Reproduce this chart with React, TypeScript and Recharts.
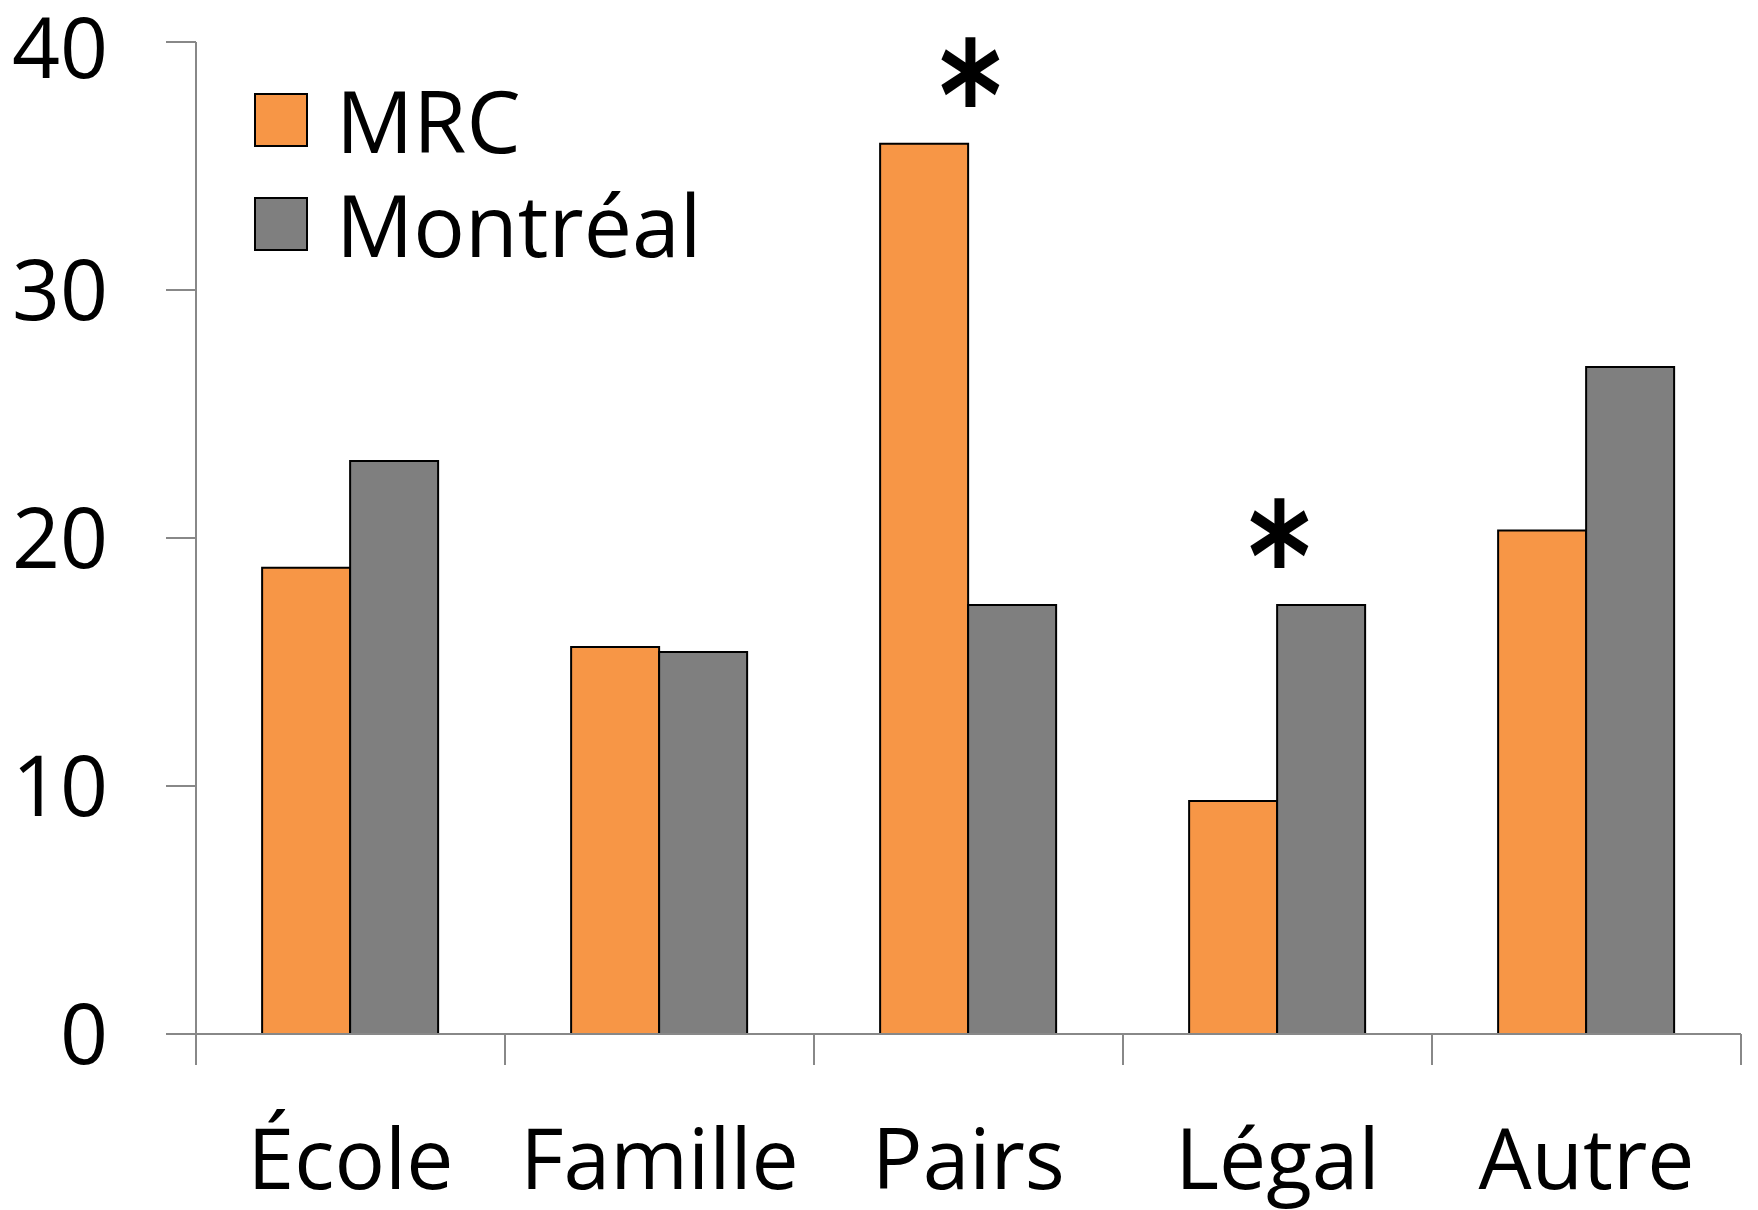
import React from "react";
import { BarChart, Bar, XAxis, YAxis, Legend, ReferenceDot } from "recharts";

const categories = ["École", "Famille", "Pairs", "Légal", "Autre"];
const mrcValues = [18.8, 15.6, 35.9, 9.4, 20.3];
const montrealValues = [23.1, 15.4, 17.3, 17.3, 26.9];
const significant = [false, false, true, true, false];
const yTicks = [0, 10, 20, 30, 40];
const seriesNames = ["MRC", "Montréal"];
const seriesColors = ["#F79646", "#7F7F7F"];

const data = categories.map((c, i) => ({
  category: c,
  mrc: mrcValues[i],
  montreal: montrealValues[i],
}));

const FONT = "'Open Sans', 'Noto Sans', sans-serif";
const AXIS_COLOR = "#888888";
const X_TICK_SIZE = 31;
const X_TICK_MARGIN = 64;
const STAR_OFFSET = 70;

const XTick = (props: any) => {
  const { x, y, payload, index, visibleTicksCount, width } = props;
  const half =
    payload && typeof payload.offset === "number" && payload.offset > 0
      ? payload.offset
      : width / (visibleTicksCount || categories.length) / 2;
  const axisY = y - X_TICK_SIZE - X_TICK_MARGIN;
  const last = index === (visibleTicksCount || categories.length) - 1;
  return (
    <g>
      <line x1={x - half} x2={x - half} y1={axisY} y2={axisY + X_TICK_SIZE} stroke={AXIS_COLOR} strokeWidth={2} />
      {last && (
        <line x1={x + half} x2={x + half} y1={axisY} y2={axisY + X_TICK_SIZE} stroke={AXIS_COLOR} strokeWidth={2} />
      )}
      <text x={x} y={y} dy="0.71em" textAnchor="middle" fill="#000" fontSize={84} fontFamily={FONT}>
        {payload.value}
      </text>
    </g>
  );
};

const StarShape = (props: any) => {
  const { cx, cy } = props;
  if (typeof cx !== "number" || typeof cy !== "number") return null;
  return (
    <g transform={`translate(${cx + 2}, ${cy - STAR_OFFSET}) scale(0.8, 1)`}>
      <text
        x={0}
        y={0}
        dy="0.5em"
        textAnchor="middle"
        fill="#000"
        fontSize={150}
        fontWeight="bold"
        fontFamily="'DejaVu Sans', sans-serif"
      >
        *
      </text>
    </g>
  );
};

const LegendContent = (props: any) => {
  const payload = props.payload || [];
  return (
    <div style={{ fontFamily: FONT }}>
      {payload.map((p: any, i: number) => (
        <div key={i} style={{ display: "flex", alignItems: "center", height: 104 }}>
          <div
            style={{
              width: 54,
              height: 54,
              boxSizing: "border-box",
              border: "2px solid #000",
              background: p.color,
            }}
          />
          <span style={{ marginLeft: 28, fontSize: 86, lineHeight: 1, color: "#000" }}>{p.value}</span>
        </div>
      ))}
    </div>
  );
};

export default function App() {
  return (
    <div style={{ position: "absolute", left: 0, top: 0, width: 1758, height: 1210, background: "#fff" }}>
      <BarChart
        width={1758}
        height={1210}
        data={data}
        margin={{ top: 42, right: 17, left: 0, bottom: 0 }}
        barCategoryGap="21.4%"
        barGap={0}
      >
        <YAxis
          type="number"
          domain={[0, 40]}
          ticks={yTicks}
          width={196}
          tickSize={30}
          tickMargin={58}
          axisLine={{ stroke: AXIS_COLOR, strokeWidth: 2 }}
          tickLine={{ stroke: AXIS_COLOR, strokeWidth: 2 }}
          tick={{ fill: "#000", fontSize: 84, fontFamily: FONT }}
        />
        <XAxis
          dataKey="category"
          height={176}
          interval={0}
          tickSize={X_TICK_SIZE}
          tickMargin={X_TICK_MARGIN}
          axisLine={{ stroke: AXIS_COLOR, strokeWidth: 2 }}
          tickLine={false}
          tick={<XTick />}
        />
        <Legend
          layout="vertical"
          align="center"
          verticalAlign="middle"
          content={<LegendContent />}
          wrapperStyle={{ position: "absolute", left: 254, top: 68, width: "auto" }}
        />
        <Bar dataKey="mrc" name={seriesNames[0]} fill={seriesColors[0]} stroke="#000" strokeWidth={2} isAnimationActive={false} />
        <Bar dataKey="montreal" name={seriesNames[1]} fill={seriesColors[1]} stroke="#000" strokeWidth={2} isAnimationActive={false} />
        {data.map((d, i) =>
          significant[i] ? (
            <ReferenceDot
              key={d.category}
              x={d.category}
              y={Math.max(d.mrc, d.montreal)}
              r={0}
              shape={<StarShape />}
            />
          ) : null
        )}
      </BarChart>
    </div>
  );
}
